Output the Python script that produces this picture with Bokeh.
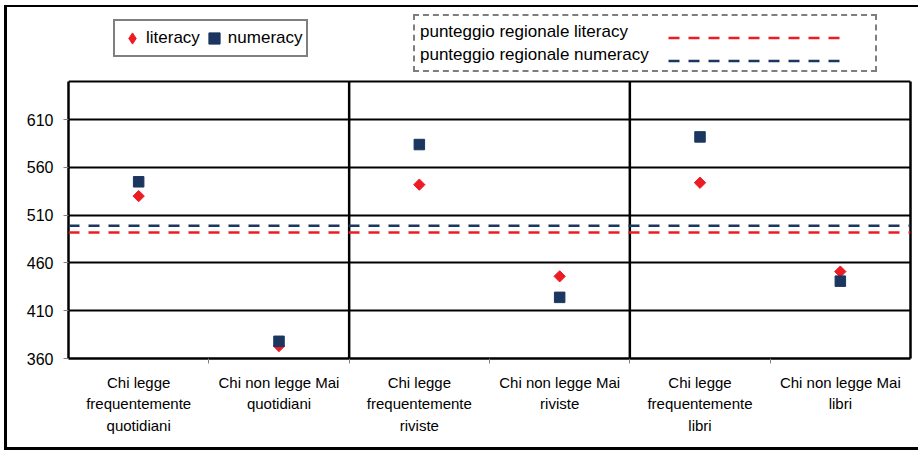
import math
from bokeh.plotting import figure
from bokeh.models import Range1d, FixedTicker, Span, Arrow, Legend, LegendItem, LinearAxis
from bokeh.embed import file_html
from bokeh.resources import INLINE

# ---------------- data ----------------
categories = [
    "Chi legge\nfrequentemente\nquotidiani",
    "Chi non legge Mai\nquotidiani",
    "Chi legge\nfrequentemente\nriviste",
    "Chi non legge Mai\nriviste",
    "Chi legge\nfrequentemente\nlibri",
    "Chi non legge Mai\nlibri",
]
literacy = [530, 373, 542, 446, 544, 451]
numeracy = [545, 378, 584, 424, 592, 441]
regional_literacy = 492
regional_numeracy = 499
y_ticks = [360, 410, 460, 510, 560, 610]
y_min, y_max = 360, 650
group_size = 2

series_labels = ["literacy", "numeracy"]
regional_labels = ["punteggio regionale literacy", "punteggio regionale numeracy"]

# ---------------- style / layout ----------------
FONT = "Liberation Sans"
RED = "#ED1C24"
NAVY = "#1B365F"
DASH = "11 9"
NAN = float("nan")

n = len(categories)
xs = list(range(n))

W, H = 920, 445
ML, MR, MT, MB = 61, 17, 5, 94
plot_h_px = 277                 # height of the 360..650 plot area
frame_h = H - MT - MB           # frame also holds the legend strip above
units_per_px = (y_max - y_min) / plot_h_px
y_top = y_min + frame_h * units_per_px

p = figure(width=W, height=H,
           x_range=Range1d(-0.5, n - 0.5), y_range=Range1d(y_min, y_top),
           output_backend="svg", toolbar_location=None,
           min_border_left=ML, min_border_right=MR,
           min_border_top=MT, min_border_bottom=MB)
p.styles = {"position": "absolute", "left": "4px", "top": "5px",
            "border-style": "solid none solid solid",
            "border-width": "2px 0px 3px 3px",
            "border-color": "black"}
p.background_fill_color = "white"
p.border_fill_color = "white"
p.outline_line_color = None

# x axis
xa = p.xaxis[0]
xa.ticker = FixedTicker(ticks=xs, minor_ticks=[i + 0.5 for i in range(n - 1)])
xa.major_label_overrides = {i: lab for i, lab in zip(xs, categories)}
xa.major_tick_out = 0
xa.major_tick_in = 0
xa.minor_tick_out = 5
xa.minor_tick_in = 0
xa.minor_tick_line_color = "#808080"
xa.axis_line_color = "black"
xa.axis_line_width = 2.5
xa.major_label_text_font = FONT
xa.major_label_text_font_size = "15px"
xa.major_label_text_line_height = 1.28
xa.major_label_text_color = "black"
xa.major_label_standoff = 10

# y axis (line bounded to the plot area)
ya = p.yaxis[0]
ya.bounds = (y_min, y_max)
ya.ticker = FixedTicker(ticks=y_ticks)
ya.minor_tick_line_color = None
ya.major_tick_out = 5
ya.major_tick_in = 0
ya.major_tick_line_color = "#808080"
ya.axis_line_color = "black"
ya.axis_line_width = 2.5
ya.major_label_text_font = FONT
ya.major_label_text_font_size = "16px"
ya.major_label_text_color = "black"
ya.major_label_standoff = 10

# right border of the plot area
ra = LinearAxis(bounds=(y_min, y_max), ticker=FixedTicker(ticks=[]),
                major_tick_line_color=None, minor_tick_line_color=None,
                major_label_text_font_size="0px",
                axis_line_color="black", axis_line_width=2.5)
p.add_layout(ra, "right")

p.xgrid.visible = False
p.ygrid.ticker = FixedTicker(ticks=y_ticks + [y_max])
p.ygrid.grid_line_color = "black"
p.ygrid.grid_line_width = 2

# group dividers (extend below the plot area through the label area)
drop_px = 87
y_bottom = y_min - drop_px * units_per_px
for g in range(1, n // group_size):
    b = g * group_size - 0.5
    p.add_layout(Arrow(end=None, x_start=b, y_start=y_max, x_end=b, y_end=y_bottom,
                       line_color="black", line_width=2.5))

# regional reference lines (+ legend swatches that draw nothing in the plot)
reg_lit_r = p.line(x=[NAN], y=[NAN], line_color=RED, line_width=2.5, line_dash=DASH)
reg_num_r = p.line(x=[NAN], y=[NAN], line_color=NAVY, line_width=2.5, line_dash=DASH)
p.add_layout(Span(location=regional_literacy, dimension="width",
                  line_color=RED, line_width=2.5, line_dash=DASH))
p.add_layout(Span(location=regional_numeracy, dimension="width",
                  line_color=NAVY, line_width=2.5, line_dash=DASH))

# points
lit_r = p.scatter(xs, literacy, marker="square", angle=math.pi / 4, size=8,
                  fill_color=RED, line_color=RED)
num_r = p.scatter(xs, numeracy, marker="square", size=10.5,
                  fill_color=NAVY, line_color=NAVY)
# legend swatch for literacy (legend glyphs are drawn unrotated)
lit_key = p.scatter(x=[NAN], y=[NAN], marker="diamond", size=12,
                    fill_color=RED, line_color=RED)

# legend 1
leg1 = Legend(items=[LegendItem(label=series_labels[0], renderers=[lit_key]),
                     LegendItem(label=series_labels[1], renderers=[num_r])],
              orientation="horizontal", location=(45, 301),
              glyph_width=28, glyph_height=28, label_standoff=-5, spacing=0,
              padding=3, margin=0,
              border_line_color="black", border_line_width=2.5,
              background_fill_color="white", background_fill_alpha=1,
              label_text_font=FONT, label_text_font_size="17px",
              label_text_color="black")
p.add_layout(leg1)

# legend 2: text part (dotted box)
leg2a = Legend(items=[LegendItem(label=regional_labels[0], renderers=[reg_lit_r]),
                      LegendItem(label=regional_labels[1], renderers=[reg_num_r])],
               orientation="vertical", location=(345, 286),
               glyph_width=0, glyph_height=23, label_height=23, label_width=451,
               label_standoff=1, spacing=0, padding=4, margin=0,
               border_line_color="black", border_line_width=2,
               border_line_dash="1 3", border_line_cap="round",
               background_fill_alpha=0,
               label_text_font=FONT, label_text_font_size="17px",
               label_text_color="black")
p.add_layout(leg2a)

# legend 2: dashed sample lines
leg2b = Legend(items=[LegendItem(label="\u00a0", renderers=[reg_lit_r]),
                      LegendItem(label="\u00a0", renderers=[reg_num_r])],
               orientation="vertical", location=(600, 286),
               glyph_width=175, glyph_height=23, label_height=23, label_width=0,
               label_standoff=0, spacing=0, padding=4, margin=0,
               border_line_color=None, background_fill_alpha=0,
               label_text_font=FONT, label_text_font_size="17px")
p.add_layout(leg2b)

open("out.html", "w").write(file_html(p, INLINE))
